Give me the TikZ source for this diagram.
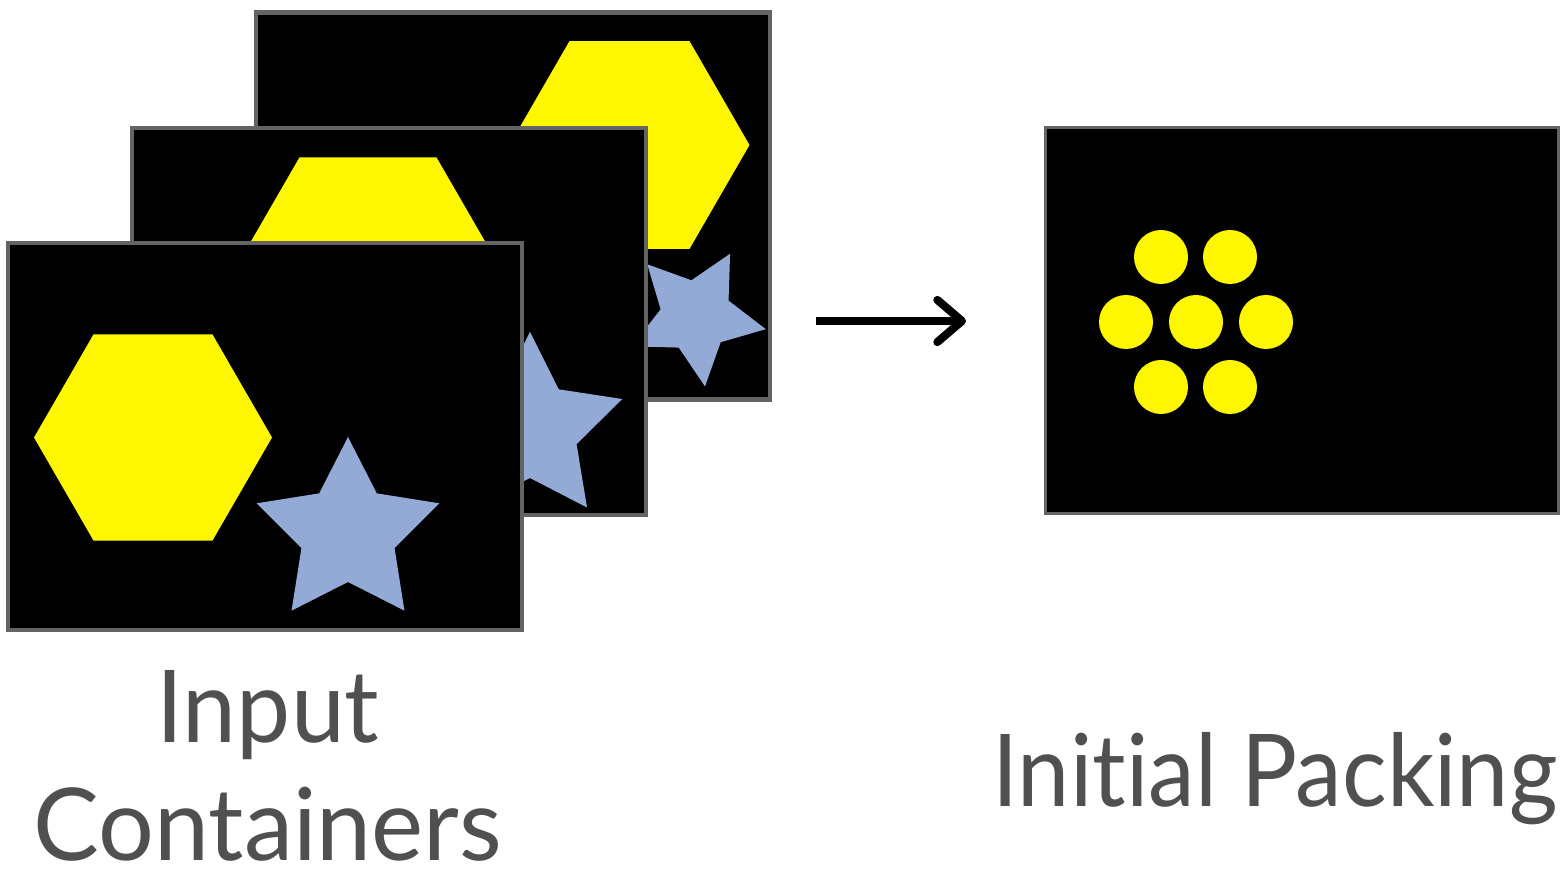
\documentclass[tikz,border=0pt]{standalone}
\usepackage{fontspec}
\setmainfont{Lato}[RawFeature={-liga;-clig;-calt;-dlig}]
\usetikzlibrary{arrows.meta}
\definecolor{framegray}{RGB}{100,100,100}
\definecolor{textgray}{RGB}{80,80,80}
\definecolor{starblue}{RGB}{148,170,214}
\definecolor{hexyellow}{RGB}{255,247,0}
\tikzset{
  frame/.style={draw=framegray, fill=black, line width=0.9pt, inner sep=0pt,
    minimum width=5.12cm, minimum height=3.85cm},
  hexfill/.style={fill=hexyellow},
  starfill/.style={fill=starblue},
  dotfill/.style={fill=hexyellow},
  label/.style={text=textgray, font=\fontsize{28.6pt}{34pt}\selectfont, inner sep=0pt, anchor=base},
  flowarrow/.style={line width=2.3pt, -{Straight Barb[length=7pt,width=12pt,round]}}
}
\newcommand{\myhex}[3]{%
  \fill[hexfill] plot[samples at={0,60,...,300}, variable=\t] ({#1+#3*cos(\t)},{#2-#3*sin(\t)}) -- cycle;}
\newcommand{\mystar}[5]{%
  \fill[starfill] plot[samples at={0,...,9}, variable=\k]
    ({#1+ifthenelse(mod(\k,2)==0,#3,#4)*cos(#5+36*\k)},{#2-ifthenelse(mod(\k,2)==0,#3,#4)*sin(#5+36*\k)}) -- cycle;}
\begin{document}
\begin{tikzpicture}[x=0.01cm,y=-0.01cm]
\useasboundingbox (0,0) rectangle (1562,873);
% back frame
\node[frame] (back) at (513,206) {};
\begin{scope}
  \clip (back.south west) rectangle (back.north east);
  \myhex{629.5}{145}{120}
  \mystar{696}{316}{71}{36}{61.3}
\end{scope}
\draw[framegray, line width=0.9pt] (back.south west) rectangle (back.north east);
% middle frame
\node[frame] (middle) at (389,321.5) {};
\begin{scope}
  \clip (middle.south west) rectangle (middle.north east);
  \myhex{368}{276}{137}
  \mystar{530}{429}{97}{49}{90}
\end{scope}
\draw[framegray, line width=0.9pt] (middle.south west) rectangle (middle.north east);
% front frame
\node[frame] (front) at (265,436.5) {};
\begin{scope}
  \clip (front.south west) rectangle (front.north east);
  \myhex{153}{437.5}{119}
  \mystar{348}{533}{96}{49}{90}
\end{scope}
\draw[framegray, line width=0.9pt] (front.south west) rectangle (front.north east);
% result frame
\node[frame] (result) at (1302,320.5) {};
\foreach \cx/\cy in {1161/257,1230/257,1126/322,1196/322,1266/322,1161/387,1230/387}
  \fill[dotfill] (\cx,\cy) circle (27);
% arrow
\coordinate (arrS) at (816,321);
\coordinate (arrE) at (966,321);
\draw[flowarrow] (arrS) -- (arrE);
% labels
\node[label] (in1) at (268,743) {\scalebox{0.96}[1]{Input}};
\node[label] (in2) at (268,861) {\scalebox{0.98}[1]{Containers}};
\node[label] (out) at (1275,807) {\scalebox{0.93}[1]{Initial Packing}};
\end{tikzpicture}
\end{document}
